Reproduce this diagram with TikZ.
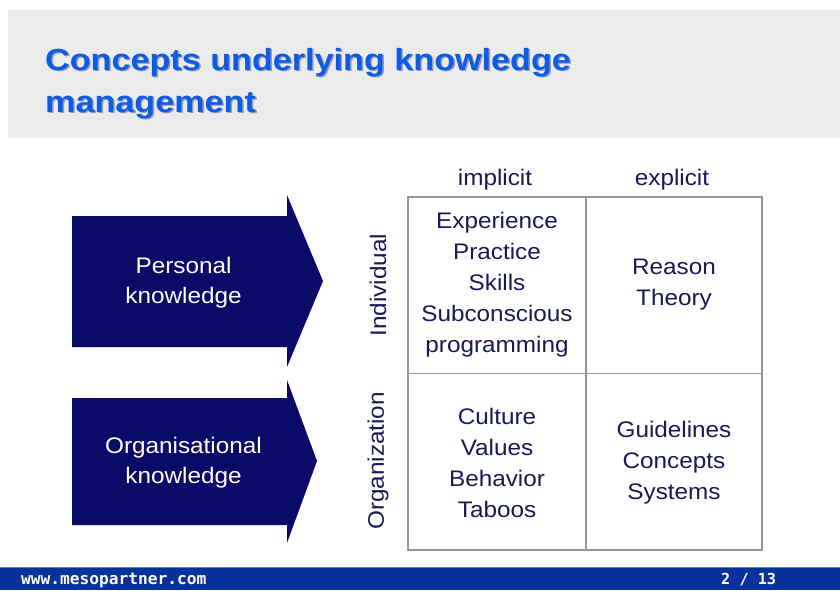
\documentclass[tikz,border=0pt]{standalone}
\usepackage{fontspec}
\setmainfont{Liberation Sans}
\newfontfamily\bodyfont[FakeStretch=1.08]{Liberation Sans}
\newfontfamily\titlefont[FakeStretch=1.12]{Liberation Sans}
\newfontfamily\footfont{DejaVu Sans Mono}
\definecolor{bandgray}{RGB}{235,235,235}
\definecolor{titleblue}{RGB}{12,92,230}
\definecolor{titleshadow}{RGB}{150,155,175}
\definecolor{arrownavy}{RGB}{10,10,105}
\definecolor{cellink}{RGB}{25,25,85}
\definecolor{gridgray}{RGB}{150,150,150}
\definecolor{footblue}{RGB}{8,50,155}
\definecolor{footline}{RGB}{90,120,200}
\tikzset{
  titletext/.style={anchor=base west, inner sep=0pt, text=titleblue,
    font=\titlefont\bfseries\fontsize{30.5}{36}\selectfont},
  shadowtext/.style={anchor=base west, inner sep=0pt, text=titleshadow,
    font=\titlefont\bfseries\fontsize{30.5}{36}\selectfont},
  arrowshape/.style={fill=arrownavy, draw=none},
  arrowtext/.style={text=white, align=center, inner sep=0pt,
    font=\bodyfont\fontsize{22.5}{30}\selectfont},
  celltext/.style={text=cellink, align=center, inner sep=0pt,
    font=\bodyfont\fontsize{22.5}{31}\selectfont},
  gridline/.style={draw=gridgray, line width=1.4pt},
  foottext/.style={text=white, inner sep=0pt, anchor=base west,
    font=\footfont\bfseries\fontsize{16.2}{18}\selectfont}
}
\begin{document}
\begin{tikzpicture}[x=1pt,y=-1pt]
\useasboundingbox (0,0) rectangle (840,590);
\fill[white] (0,0) rectangle (840,590);
% title band
\fill[bandgray] (8,10) rectangle (840,138);
\node[shadowtext] (title1s) at (46.5,71.5) {Concepts underlying knowledge};
\node[shadowtext] (title2s) at (46.5,113.5) {management};
\node[titletext] (title1) at (45,70) {Concepts underlying knowledge};
\node[titletext] (title2) at (45,112) {management};
% arrows
\fill[arrowshape] (72,216) -- (287,216) -- (287,195) -- (323,281) -- (287,367) -- (287,347) -- (72,347) -- cycle;
\fill[arrowshape] (72,398) -- (287,398) -- (287,380) -- (317,461) -- (287,543) -- (287,525) -- (72,525) -- cycle;
\node[arrowtext] (personal) at (183.5,283) {Personal\\knowledge};
\node[arrowtext] (organisational) at (183.5,463) {Organisational\\knowledge};
% grid
\draw[gridline] (408,197) rectangle (762,550);
\draw[gridline] (586,197) -- (586,550);
\draw[gridline] (408,373.5) -- (762,373.5);
% headers
\node[celltext] (implicit) at (495,180) {implicit};
\node[celltext] (explicit) at (672,180) {explicit};
\node[celltext, rotate=90] (individual) at (378,285) {Individual};
\node[celltext, rotate=90] (organization) at (378,461) {Organization};
% cells
\node[celltext] (c11) at (497,285) {Experience\\Practice\\Skills\\Subconscious\\programming};
\node[celltext] (c12) at (674,285) {Reason\\Theory};
\node[celltext] (c21) at (497,463) {Culture\\Values\\Behavior\\Taboos};
\node[celltext] (c22) at (674,463) {Guidelines\\Concepts\\Systems};
% footer
\fill[footblue] (0,567) rectangle (840,590);
\draw[footline, line width=1pt] (0,567.5) -- (840,567.5);
\node[foottext] (url) at (21,584) {www.mesopartner.com};
\node[foottext, font=\footfont\bfseries\fontsize{15.2}{18}\selectfont] (page) at (721,584) {2 / 13};
\end{tikzpicture}
\end{document}
